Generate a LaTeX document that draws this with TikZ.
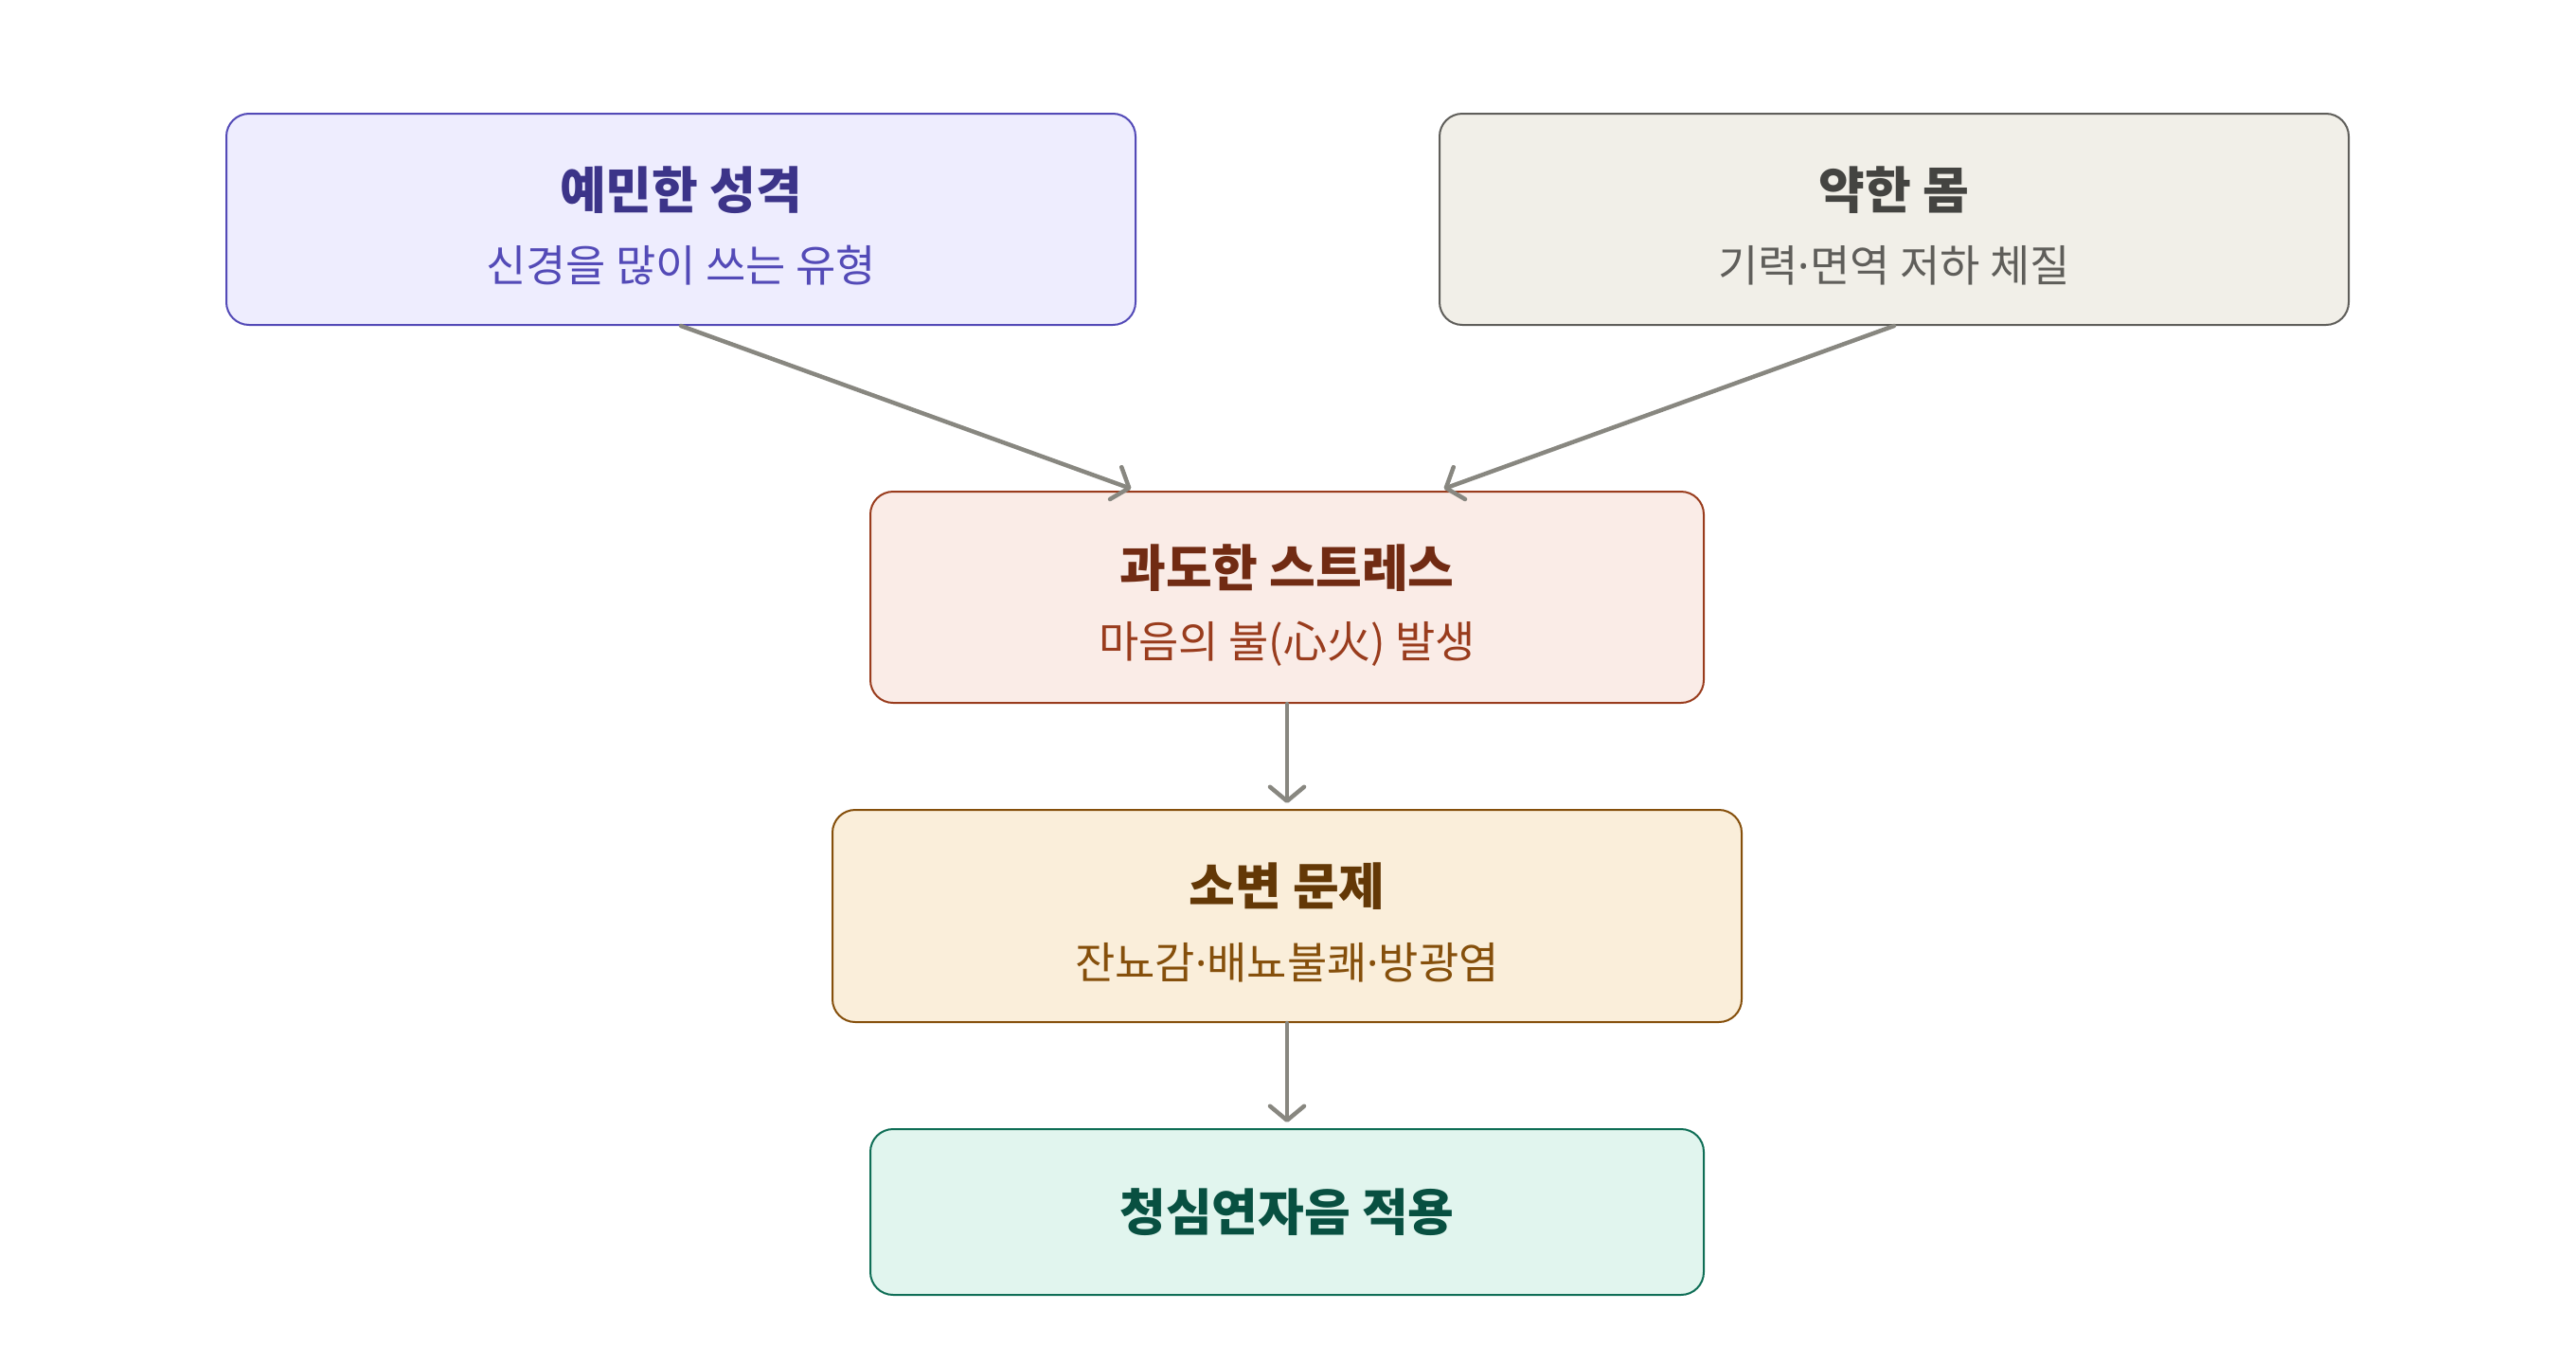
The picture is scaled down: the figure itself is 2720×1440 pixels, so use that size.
\documentclass[tikz,border=0pt]{standalone}
\usepackage{fontspec}
\setmainfont{Noto Sans CJK KR}
\newfontfamily\latinf{Noto Sans}
\newcommand{\mdot}{{\latinf ·}}
\usetikzlibrary{arrows.meta}
\definecolor{aFill}{HTML}{EEEDFE}\definecolor{aLine}{HTML}{534AB7}\definecolor{aTitle}{HTML}{3C3489}
\definecolor{bFill}{HTML}{F1EFE8}\definecolor{bLine}{HTML}{5F5E5A}\definecolor{bTitle}{HTML}{444441}
\definecolor{cFill}{HTML}{FAECE7}\definecolor{cLine}{HTML}{993C1D}\definecolor{cTitle}{HTML}{712B13}
\definecolor{dFill}{HTML}{FAEEDA}\definecolor{dLine}{HTML}{854F0B}\definecolor{dTitle}{HTML}{633806}
\definecolor{eFill}{HTML}{E1F5EE}\definecolor{eLine}{HTML}{0F6E56}\definecolor{eTitle}{HTML}{085041}
\definecolor{arrowGray}{HTML}{888780}
\tikzset{
  box/.style={draw, line width=2pt, rounded corners=24pt, inner sep=0pt},
  ttl/.style={inner sep=0pt, font=\fontsize{53}{57}\selectfont\bfseries},
  sub/.style={inner sep=0pt, font=\fontsize{46}{50}\selectfont},
  flow/.style={draw=arrowGray, line width=4.5pt, line cap=round,
    -{Straight Barb[length=15pt,width=36pt,line cap=round,line join=round]}, shorten >=6pt}
}
\begin{document}
\begin{tikzpicture}[x=1pt,y=-1pt]
\useasboundingbox (0,0) rectangle (2720,1440);
% boxes
\node[box, fill=aFill, draw=aLine, minimum width=960pt, minimum height=223pt] (A) at (719,231.5) {};
\node[box, fill=bFill, draw=bLine, minimum width=960pt, minimum height=223pt] (B) at (2000,231.5) {};
\node[box, fill=cFill, draw=cLine, minimum width=880pt, minimum height=223pt] (C) at (1359,630.5) {};
\node[box, fill=dFill, draw=dLine, minimum width=960pt, minimum height=224pt] (D) at (1359,967) {};
\node[box, fill=eFill, draw=eLine, minimum width=880pt, minimum height=175pt] (E) at (1359,1279.5) {};
% texts
\node[ttl, text=aTitle] (At) at ([yshift=31pt]A.center) {예민한 성격};
\node[sub, text=aLine] (As) at ([yshift=-49pt]A.center) {신경을 많이 쓰는 유형};
\node[ttl, text=bTitle] (Bt) at ([yshift=31pt]B.center) {약한 몸};
\node[sub, text=bLine] (Bs) at ([yshift=-49pt]B.center) {기력\mdot 면역 저하 체질};
\node[ttl, text=cTitle] (Ct) at ([yshift=31pt]C.center) {과도한 스트레스};
\node[sub, text=cLine] (Cs) at ([yshift=-49pt]C.center) {마음의 불(心火) 발생};
\node[ttl, text=dTitle] (Dt) at ([yshift=31pt]D.center) {소변 문제};
\node[sub, text=dLine] (Ds) at ([yshift=-49pt]D.center) {잔뇨감\mdot 배뇨불쾌\mdot 방광염};
\node[ttl, text=eTitle] (Et) at (E.center) {청심연자음 적용};
% connectors
\draw[flow] (A.south) -- (A.south east |- C.north);
\draw[flow] (B.south) -- (B.south west |- C.north);
\draw[flow] (C.south) -- (D.north);
\draw[flow] (D.south) -- (E.north);
\end{tikzpicture}
\end{document}
